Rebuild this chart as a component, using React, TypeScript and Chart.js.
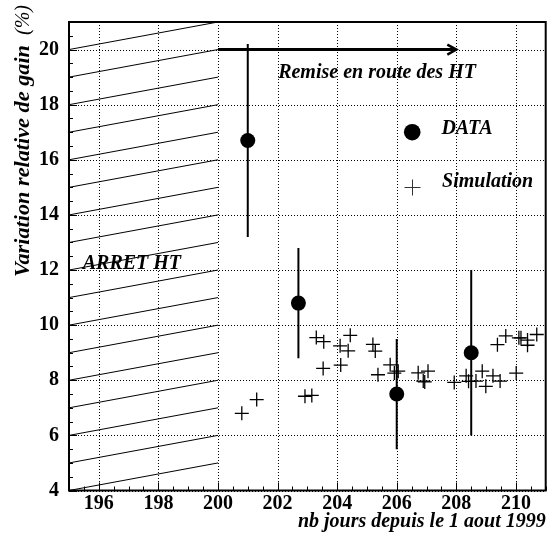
import React, { useEffect, useRef } from 'react';
import { Chart, registerables } from 'chart.js';

Chart.register(...registerables);

// ---- axis ranges and ticks ----
const xMin = 195;
const xMax = 211;
const yMin = 4;
const yMax = 21;
const xTickValues = [196, 198, 200, 202, 204, 206, 208, 210];
const yTickValues = [4, 6, 8, 10, 12, 14, 16, 18, 20];

// ---- DATA (measured gain variation) ----
const dataDays = [201, 202.7, 206, 208.5];
const dataGain = [16.7, 10.8, 7.5, 9.0];
const dataErr = [3.5, 2.0, 2.0, 3.0];

// ---- Simulation ----
const simDays = [
  200.8, 201.3, 202.92, 203.15, 203.3, 203.55, 203.53, 204.1, 204.12, 204.37,
  204.44, 205.2, 205.28, 205.37, 205.78, 205.92, 206.05, 206.72, 206.89, 206.94,
  207.05, 207.93, 208.33, 208.41, 208.66, 208.87, 208.99, 209.23, 209.47, 209.38,
  209.66, 210.01, 210.1, 210.17, 210.39, 210.39, 210.7,
];
const simGain = [
  6.8, 7.3, 7.42, 7.45, 9.55, 9.4, 8.43, 9.25, 8.55, 9.07,
  9.63, 9.3, 9.06, 8.2, 8.56, 8.26, 8.33, 8.27, 7.97, 7.94,
  8.33, 7.92, 8.16, 7.96, 7.97, 8.33, 7.78, 8.16, 7.97, 9.29,
  9.61, 8.26, 9.54, 9.54, 9.46, 9.27, 9.66,
];

// ---- "ARRET HT" hatched period ----
const hatchStarts = [4, 5, 6, 7, 8, 9, 10, 11, 12, 13, 14, 15, 16, 17, 18, 19, 20];
const hatchFromDay = 195;
const hatchToDay = 200;
const hatchRise = 1;

// ---- "Remise en route des HT" arrow ----
const arrowFromDay = 200;
const arrowToDay = 208;
const arrowLevel = 20;

const SERIF = '"Liberation Serif", "Times New Roman", serif';

const gridPlugin = {
  id: 'dottedGrid',
  beforeDatasetsDraw(chart: any) {
    const ctx: CanvasRenderingContext2D = chart.ctx;
    const xs = chart.scales.x;
    const ys = chart.scales.y;
    const { left, right, top, bottom } = chart.chartArea;
    ctx.save();
    ctx.strokeStyle = '#000';
    ctx.lineWidth = 1;
    ctx.setLineDash([1, 2]);
    ctx.beginPath();
    xTickValues.forEach((v) => {
      const x = Math.round(xs.getPixelForValue(v)) + 0.5;
      ctx.moveTo(x, top);
      ctx.lineTo(x, bottom);
    });
    yTickValues.forEach((v) => {
      const y = Math.round(ys.getPixelForValue(v)) + 0.5;
      ctx.moveTo(left, y);
      ctx.lineTo(right, y);
    });
    ctx.stroke();
    ctx.restore();
  },
};

const overlayPlugin = {
  id: 'rootOverlay',
  afterDatasetsDraw(chart: any) {
    const ctx: CanvasRenderingContext2D = chart.ctx;
    const xs = chart.scales.x;
    const ys = chart.scales.y;
    const { left, right, top, bottom } = chart.chartArea;
    const px = (v: number) => xs.getPixelForValue(v);
    const py = (v: number) => ys.getPixelForValue(v);

    ctx.save();
    // arrow head
    const tx = px(arrowToDay);
    const ty = py(arrowLevel);
    ctx.strokeStyle = '#000';
    ctx.lineWidth = 2.5;
    ctx.beginPath();
    ctx.moveTo(tx - 9, ty - 5);
    ctx.lineTo(tx, ty);
    ctx.lineTo(tx - 9, ty + 5);
    ctx.stroke();

    // texts
    ctx.fillStyle = '#000';
    ctx.textBaseline = 'alphabetic';
    ctx.textAlign = 'left';
    ctx.font = `italic bold 20px ${SERIF}`;
    ctx.fillText('Remise en route des HT', px(202.02), py(18.97));
    ctx.fillText('ARRET HT', px(195.46), py(12.04));
    ctx.fillText('DATA', px(207.5), py(16.95));
    ctx.fillText('Simulation', px(207.52), py(15.0));

    // legend markers
    ctx.beginPath();
    ctx.arc(px(206.52), py(17.0), 8.3, 0, Math.PI * 2);
    ctx.fill();
    ctx.strokeStyle = '#333';
    ctx.lineWidth = 1;
    const cx = Math.round(px(206.52)) + 0.5;
    const cy = Math.round(py(15.0)) + 0.5;
    ctx.beginPath();
    ctx.moveTo(cx - 8, cy);
    ctx.lineTo(cx + 8, cy);
    ctx.moveTo(cx, cy - 8);
    ctx.lineTo(cx, cy + 8);
    ctx.stroke();

    // tick marks (inside)
    ctx.strokeStyle = '#000';
    ctx.lineWidth = 1;
    ctx.beginPath();
    for (let v = xMin; v <= xMax + 1e-9; v += 0.5) {
      const x = Math.round(px(v)) + 0.5;
      const len = xTickValues.includes(v) ? 8 : 4;
      ctx.moveTo(x, bottom);
      ctx.lineTo(x, bottom - len);
    }
    for (let v = yMin; v <= yMax + 1e-9; v += 0.5) {
      const y = Math.round(py(v)) + 0.5;
      const len = yTickValues.includes(v) ? 8 : 4;
      ctx.moveTo(left, y);
      ctx.lineTo(left + len, y);
    }
    ctx.stroke();

    // frame
    ctx.lineWidth = 2;
    ctx.strokeRect(left, top, right - left, bottom - top);

    // x axis title
    ctx.font = `italic bold 20px ${SERIF}`;
    ctx.textAlign = 'right';
    ctx.fillText('nb jours depuis le 1 aout 1999', right, 527);

    // y axis title (rotated, aligned to the top)
    ctx.translate(29, 5);
    ctx.rotate(-Math.PI / 2);
    ctx.textAlign = 'right';
    ctx.font = `italic 20px ${SERIF}`;
    ctx.fillText('(%)', 0, 0);
    ctx.font = `italic bold 20px ${SERIF}`;
    const tw = ctx.measureText('Variation relative de gain').width;
    ctx.translate(-40, 0);
    ctx.scale(232 / tw, 1);
    ctx.fillText('Variation relative de gain', 0, 0);
    ctx.restore();
  },
};

export default function App() {
  const ref = useRef<HTMLCanvasElement>(null);

  useEffect(() => {
    document.body.style.margin = '0';
    const canvas = ref.current;
    if (!canvas) return;

    const datasets: any[] = [];

    datasets.push({
      label: 'DATA',
      data: dataDays.map((d, i) => ({ x: d, y: dataGain[i] })),
      pointStyle: 'circle',
      pointRadius: 7.5,
      backgroundColor: '#000',
      borderWidth: 0,
      showLine: false,
    });

    dataDays.forEach((d, i) => {
      datasets.push({
        label: 'err' + i,
        data: [
          { x: d, y: dataGain[i] - dataErr[i] },
          { x: d, y: dataGain[i] + dataErr[i] },
        ],
        showLine: true,
        borderColor: '#000',
        borderWidth: 2,
        pointRadius: 0,
      });
    });

    datasets.push({
      label: 'Simulation',
      data: simDays.map((d, i) => ({ x: d, y: simGain[i] })),
      pointStyle: 'cross',
      pointRadius: 7,
      borderColor: '#000',
      borderWidth: 1.3,
      showLine: false,
    });

    datasets.push({
      label: 'arrow',
      data: [
        { x: arrowFromDay, y: arrowLevel },
        { x: arrowToDay, y: arrowLevel },
      ],
      showLine: true,
      borderColor: '#000',
      borderWidth: 3,
      pointRadius: 0,
    });

    hatchStarts.forEach((s, i) => {
      datasets.push({
        label: 'hatch' + i,
        data: [
          { x: hatchFromDay, y: s },
          { x: hatchToDay, y: s + hatchRise },
        ],
        showLine: true,
        borderColor: '#000',
        borderWidth: 1,
        pointRadius: 0,
      });
    });

    const chart = new Chart(canvas, {
      type: 'scatter',
      data: { datasets },
      options: {
        animation: false,
        responsive: false,
        devicePixelRatio: 1,
        events: [],
        layout: { padding: { left: 0, top: 6, right: 3.5, bottom: 0 } },
        plugins: {
          legend: { display: false },
          tooltip: { enabled: false },
        },
        scales: {
          x: {
            type: 'linear',
            min: xMin,
            max: xMax,
            afterBuildTicks: (scale: any) => {
              scale.ticks = xTickValues.map((v) => ({ value: v }));
            },
            afterFit: (scale: any) => {
              scale.height = 51.5;
            },
            grid: { display: false, drawTicks: false },
            border: { display: false },
            ticks: {
              color: '#000',
              padding: 1,
              maxRotation: 0,
              autoSkip: false,
              font: { family: SERIF, size: 20, weight: 'bold' },
            },
          },
          y: {
            type: 'linear',
            min: yMin,
            max: yMax,
            afterBuildTicks: (scale: any) => {
              scale.ticks = yTickValues.map((v) => ({ value: v }));
            },
            afterFit: (scale: any) => {
              scale.width = 69;
            },
            grid: { display: false, drawTicks: false },
            border: { display: false },
            ticks: {
              color: '#000',
              padding: 10,
              autoSkip: false,
              font: { family: SERIF, size: 20, weight: 'bold' },
            },
          },
        },
      } as any,
      plugins: [gridPlugin, overlayPlugin],
    });

    return () => chart.destroy();
  }, []);

  return (
    <div style={{ position: 'absolute', left: 0, top: 0, width: 554, height: 542, background: '#fff' }}>
      <canvas ref={ref} width={554} height={542} style={{ display: 'block' }} />
    </div>
  );
}
